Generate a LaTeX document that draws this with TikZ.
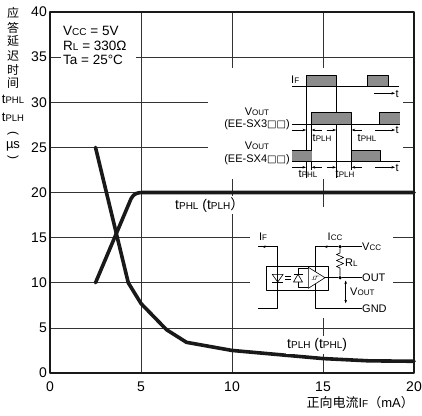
\documentclass[tikz,border=0pt]{standalone}
\usepackage{fontspec}
\setmainfont{Liberation Sans}
\newfontfamily\cjk{Noto Sans CJK SC}
\newfontfamily\dvs{DejaVu Sans}
\usetikzlibrary{arrows.meta}
\newcommand{\sbig}[1]{{\fontsize{10}{10}\selectfont #1}}
\newcommand{\ssm}[1]{{\fontsize{8}{8}\selectfont #1}}
\newcommand{\sq}{{\dvs\fontsize{10}{10}\selectfont □}}
\begin{document}
\begin{tikzpicture}[x=1pt,y=-1pt,line join=round,
  gridln/.style={line width=0.7pt,black!80},
  frameln/.style={line width=2.4pt,black!90},
  curveln/.style={line width=3.6pt,black!90,line join=round,line cap=round},
  tw/.style={line width=0.6pt},
  pulse/.style={fill=black!45,draw=black,line width=0.6pt},
  dim/.style={line width=0.5pt,-{Stealth[length=3.5pt,width=2.6pt]}},
  dimb/.style={line width=0.5pt,{Stealth[length=3.5pt,width=2.6pt]}-{Stealth[length=3.5pt,width=2.6pt]}},
  big/.style={inner sep=0pt,font=\fontsize{14}{14}\selectfont},
  mid/.style={inner sep=0pt,font=\fontsize{13.5}{14}\selectfont},
  sml/.style={inner sep=0pt,font=\fontsize{11}{11}\selectfont},
  ylab/.style={inner sep=0pt,font=\fontsize{12}{12}\selectfont\cjk},
  dot/.style={circle,fill=black,inner sep=0pt,minimum size=3.6pt}]
\useasboundingbox (0,0) rectangle (422,415);
% ---------------- grid ----------------
\begin{scope}[shift={(50pt,-373pt)},x=18.2pt,y=9.025pt]
  \foreach \xx in {5,10,15} \draw[gridln] (\xx,0) -- (\xx,40);
  \foreach \yy in {5,10,...,35} \draw[gridln] (0,\yy) -- (20,\yy);
\end{scope}
% white areas behind insets
\fill[white] (208,68) rectangle (403,179);
\fill[white] (250,207) rectangle (393,318);
\fill[white] (61,20) rectangle (136,67);
% ---------------- conditions ----------------
\node[mid,anchor=west] (vcc) at (63,31) {V\sbig{CC} = 5V};
\node[mid,anchor=west] (rl) at (63,45.5) {R\sbig{L} = 330Ω};
\node[mid,anchor=west] (ta) at (63,60) {Ta = 25°C};
% ---------------- frame and curves ----------------
\begin{scope}[shift={(50pt,-373pt)},x=18.2pt,y=9.025pt]
  \draw[frameln] (0,0) rectangle (20,40);
  \draw[curveln] (2.5,10) -- (4.45,19.3) .. controls (4.6,19.9) and (4.8,20) .. (5.1,20) -- (20,20);
  \draw[curveln] (2.5,25) -- (4.3,10) -- (5,7.7) -- (6.4,4.8) -- (7.5,3.4) -- (10,2.5) -- (12.5,2.05) -- (15,1.6) -- (17.5,1.35) -- (20,1.3);
\end{scope}
\node[big,anchor=west,fill=white,inner xsep=1pt,inner ysep=2pt] (c1) at (174,205) {t\sbig{PHL} (t\sbig{PLH}{\cjk ）}};
\node[big,anchor=west,fill=white,inner xsep=1pt,inner ysep=2pt] (c2) at (286,345) {t\sbig{PLH} (t\sbig{PHL})};
% ---------------- tick labels ----------------
\foreach \v/\yp in {0/373,5/327.9,10/282.8,15/237.6,20/192.5,25/147.4,30/102.2,35/57.1,40/12}
  \node[big,anchor=east] (yt\v) at (47,\yp) {\v};
\foreach \v/\xp in {0/50,5/141,10/232,15/323,20/414}
  \node[big] (xt\v) at (\xp,386.5) {\v};
\node[inner sep=0pt,anchor=east,font=\fontsize{13}{13}\selectfont] (xlab) at (414,403) {{\cjk 正向电流}I\sbig{F}{\cjk （}mA{\cjk ）}};
% y axis label
\node[ylab] (ya) at (13,13) {应};
\node[ylab] (yb) at (13,27.5) {答};
\node[ylab] (yc) at (13,41.5) {延};
\node[ylab] (yd) at (13,55.5) {迟};
\node[ylab] (ye) at (13,69.5) {时};
\node[ylab] (yf) at (13,83.5) {间};
\node[inner sep=0pt,font=\fontsize{13}{13}\selectfont] (yg) at (13,99) {t{\fontsize{9.5}{9.5}\selectfont PHL}};
\node[inner sep=0pt,font=\fontsize{13}{13}\selectfont] (yh) at (13,117) {t{\fontsize{9.5}{9.5}\selectfont PLH}};
\node[inner sep=0pt,rotate=-90,font=\fontsize{12}{12}\selectfont] (yi) at (13,133) {(};
\node[inner sep=0pt,font=\fontsize{13}{13}\selectfont] (yj) at (13,146.5) {µs};
\node[inner sep=0pt,rotate=-90,font=\fontsize{12}{12}\selectfont] (yk) at (13,157) {)};
% ---------------- timing diagram ----------------
\node[sml,anchor=west] (tif) at (291,80) {I\ssm{F}};
\draw[tw] (292,86) -- (399,86);
\filldraw[pulse] (306,86) rectangle (336,75.7);
\filldraw[pulse] (367.7,86) rectangle (388.3,75.7);
\coordinate (ta1) at (374,93.3); \coordinate (ta2) at (395,93.3);
\draw[dim] (ta1) -- (ta2);
\node[sml,anchor=west] (tt1) at (395.5,93.5) {t};
\draw[tw] (306,75.7) -- (306,178);
\draw[tw] (336,75.7) -- (336,178);
% SX3 row
\node[sml] (v3a) at (257,111.7) {V\ssm{OUT}};
\node[sml] (v3b) at (257,124.5) {(EE-SX3\sq\sq)};
\fill[black!45] (311.7,112.7) rectangle (351.7,124);
\fill[black!45] (379.3,112.7) rectangle (400,124);
\draw[tw] (292,124) -- (400,124);
\draw[tw] (311.7,170) -- (311.7,112.7) -- (351.7,112.7) -- (351.7,170);
\draw[tw] (379.3,124) -- (379.3,112.7) -- (400,112.7);
\draw[dim] (292,130) -- (306,130);
\draw[dim] (321.7,130) -- (311.7,130);
\draw[dim] (326.7,130) -- (336,130);
\draw[dim] (361.7,130) -- (351.7,130);
\draw[dim] (375,130) -- (395,130);
\node[sml,anchor=west] (tt2) at (395.5,130.2) {t};
\node[sml] (l1) at (322,138) {t\ssm{PLH}};
\node[sml] (l2) at (367,138) {t\ssm{PHL}};
% SX4 row
\node[sml] (v4a) at (257,146) {V\ssm{OUT}};
\node[sml] (v4b) at (257,160) {(EE-SX4\sq\sq)};
\fill[black!45] (292,150) rectangle (311.7,161);
\filldraw[pulse] (351.7,161) rectangle (380,150);
\draw[tw] (292,150) -- (311.7,150);
\draw[tw] (292,161) -- (400,161);
\draw[dim] (292,167.3) -- (306,167.3);
\draw[dim] (321.7,167.3) -- (311.7,167.3);
\draw[dim] (326.7,167.3) -- (336,167.3);
\draw[dim] (361.7,167.3) -- (351.7,167.3);
\draw[dim] (375,167.3) -- (395,167.3);
\node[sml,anchor=west] (tt3) at (395.5,167.5) {t};
\node[sml] (l3) at (308,174) {t\ssm{PHL}};
\node[sml] (l4) at (345,174) {t\ssm{PLH}};
% ---------------- circuit ----------------
\coordinate (a1) at (258,246.7); \coordinate (a2) at (277.7,246.7);
\coordinate (a3) at (277.7,308.3); \coordinate (a4) at (258,308.3);
\coordinate (s1) at (315,246.7); \coordinate (s2) at (315,308.3);
\node[dot] (j1) at (340,246.7) {};
\node[dot] (j2) at (340,277.7) {};
\coordinate (e1) at (362,246.7); \coordinate (e2) at (362,277.7); \coordinate (e3) at (362,308.3);
\node[sml,anchor=south] (lif) at (263,241) {I\ssm{F}};
\node[sml,anchor=south] (licc) at (335,241) {I\ssm{CC}};
\draw[tw] (a2) -- (a3) -- (a4);
\draw[tw] (a2) -- (a1);
\draw[dim] (a2) -- (262,246.7);
\draw[tw] (s1) -- (j1) -- (e1);
\draw[dim] (j1) -- (324,246.7);
\draw[tw] (s1) -- (s2) -- (e3);
\draw[tw] (j1) -- (340,253) -- (336.5,254.5) -- (343.5,257.5) -- (336.5,260.5) -- (343.5,263.5) -- (336.5,266.5) -- (340,268) -- (j2);
\draw[tw] (325,277.7) -- (j2) -- (e2);
\draw[tw] (266,266) rectangle (328,290.5);
% LED
\draw[tw] (272.2,274.3) -- (283.2,274.3) -- (277.7,282) -- cycle;
\draw[tw] (272.2,282) -- (283.2,282);
\draw[tw] (285,276.3) -- (290.5,276.3);
\draw[tw] (285,279.6) -- (290.5,279.6);
% photodiode + amp
\draw[tw] (298,274.3) -- (293.5,282) -- (302.5,282) -- cycle;
\draw[tw] (293.5,274.3) -- (302.5,274.3);
\draw[tw] (298,274.3) -- (298,268.3) -- (308.3,268.3);
\draw[tw] (298,282) -- (298,287.3) -- (308.3,287.3);
\filldraw[tw,fill=white] (308.3,267.3) -- (325,277.7) -- (308.3,288.3) -- cycle;
\draw[line width=0.4pt] (311.5,279.5) -- (315.5,279.5) -- (316.5,276) -- (319.5,276);
\draw[line width=0.4pt] (313,279.5) -- (314,276) -- (318,276);
\node[sml,anchor=west] (lvcc) at (e1) {V\ssm{CC}};
\node[sml,anchor=west] (lout) at (e2) {OUT};
\node[sml,anchor=west] (lgnd) at (e3) {GND};
\node[sml,anchor=west] (lrl) at (345,262.3) {R\ssm{L}};
\coordinate (v1) at (345.7,280.5); \coordinate (v2) at (345.7,303.3);
\draw[dimb] (v1) -- (v2);
\node[sml,anchor=west] (lvo) at (350,292) {V\ssm{OUT}};
\end{tikzpicture}
\end{document}
